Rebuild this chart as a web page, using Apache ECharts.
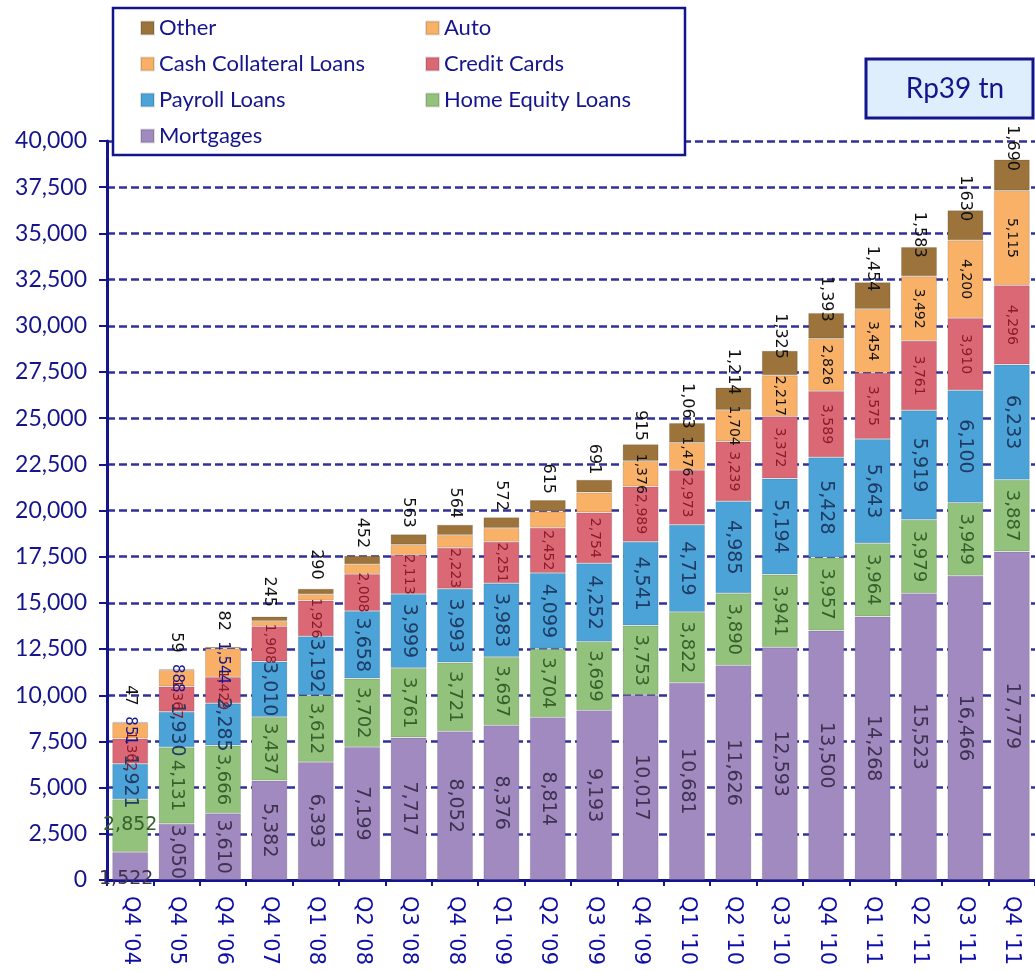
<!DOCTYPE html>
<html>
<head>
<meta charset="utf-8">
<script src="https://cdn.jsdelivr.net/npm/echarts@6/dist/echarts.min.js"></script>
<style>
html,body{margin:0;padding:0;background:#fff;}
#c{width:1035px;height:971px;}
</style>
</head>
<body>
<div id="c"></div>
<script>
const categories = ["Q4 '04","Q4 '05","Q4 '06","Q4 '07","Q1 '08","Q2 '08","Q3 '08","Q4 '08","Q1 '09","Q2 '09","Q3 '09","Q4 '09","Q1 '10","Q2 '10","Q3 '10","Q4 '10","Q1 '11","Q2 '11","Q3 '11","Q4 '11"];
const mortgages      = [1522,3050,3610,5382,6393,7199,7717,8052,8376,8814,9193,10017,10681,11626,12593,13500,14268,15523,16466,17779];
const homeEquity     = [2852,4131,3666,3437,3612,3702,3761,3721,3697,3704,3699,3753,3822,3890,3941,3957,3964,3979,3949,3887];
const payroll        = [1921,1930,2285,3010,3192,3658,3999,3993,3983,4099,4252,4541,4719,4985,5194,5428,5643,5919,6100,6233];
const creditCards    = [1362,1367,1429,1908,1926,2008,2113,2223,2251,2452,2754,2989,2973,3239,3372,3589,3575,3761,3910,4296];
const cashCollateral = [851,888,1544,null,null,null,null,null,null,null,null,null,null,null,null,null,null,null,null,null];
const auto           = [null,null,null,280,350,530,560,680,750,880,1080,1376,1476,1704,2217,2826,3454,3492,4200,5115];
const other          = [47,59,82,245,290,452,563,564,572,615,691,915,1063,1214,1325,1393,1454,1583,1630,1690];
const yTickStep = 2500;
const yMax = 40000;
const totalLabel = "Rp39 tn";

const NAVY = '#14148c';
const fmt = v => (v == null ? '' : Number(v).toLocaleString('en-US'));

function mkData(arr, overrides) {
  return arr.map((v, i) => {
    const o = overrides ? overrides(i, v) : null;
    return o ? Object.assign({ value: v }, o) : v;
  });
}

function mkSeries(name, arr, color, labelOpt, overrides) {
  return {
    name: name,
    type: 'bar',
    stack: 'total',
    barWidth: 36,
    data: mkData(arr, overrides),
    itemStyle: { color: color, borderColor: 'rgba(0,0,0,0.12)', borderWidth: 1 },
    label: Object.assign({
      show: true,
      position: 'inside',
      rotate: -90,
      fontFamily: 'DejaVu Sans',
      formatter: p => fmt(p.value)
    }, labelOpt),
    emphasis: { disabled: true },
    animation: false
  };
}

const chart = echarts.init(document.getElementById('c'), null, { renderer: 'canvas' });

const series = [
  mkSeries('Mortgages', mortgages, '#a08abf', { color: '#3f3151', fontSize: 19 },
    (i) => i === 0 ? { label: { rotate: 0, offset: [-4, 13] } } : null),
  mkSeries('Home Equity Loans', homeEquity, '#92c27c', { color: '#35602a', fontSize: 18 },
    (i) => i === 0 ? { label: { rotate: 0, fontSize: 19 } } : null),
  mkSeries('Payroll Loans', payroll, '#4ba3d8', { color: '#1f3b63', fontSize: 19 }),
  mkSeries('Credit Cards', creditCards, '#da6875', { color: '#8b1a2b', fontSize: 14 }),
  mkSeries('Cash Collateral Loans', cashCollateral, '#f9b066', { color: NAVY, fontSize: 15 }),
  mkSeries('Auto', auto, '#f9b168', { color: '#111', fontSize: 14 },
    (i) => i < 11 ? { label: { show: false } } : null),
  mkSeries('Other', other, '#9b733b', { color: '#111', fontSize: 16, offset: [-27, 0] })
];

const legendText = { color: NAVY, fontSize: 22, fontFamily: 'Lato', lineHeight: 22 };

chart.setOption({
  animation: false,
  backgroundColor: '#fff',
  grid: { left: 107, top: 141, width: 934, height: 739, containLabel: false },
  legend: [
    { orient: 'vertical', left: 135, top: 12, itemWidth: 13, itemHeight: 13, itemGap: 14, icon: 'rect',
      data: ['Other', 'Cash Collateral Loans', 'Payroll Loans', 'Mortgages'], textStyle: legendText, z: 10, selectedMode: false },
    { orient: 'vertical', left: 420, top: 12, itemWidth: 13, itemHeight: 13, itemGap: 14, icon: 'rect',
      data: ['Auto', 'Credit Cards', 'Home Equity Loans'], textStyle: legendText, z: 10, selectedMode: false }
  ],
  graphic: [
    { type: 'rect', z: 3, shape: { x: 113, y: 8, width: 572, height: 147 },
      style: { fill: '#fff', stroke: NAVY, lineWidth: 2.5 } },
    { type: 'rect', z: 3, shape: { x: 866, y: 59, width: 167, height: 59 },
      style: { fill: '#deeefc', stroke: NAVY, lineWidth: 3 } },
    { type: 'text', z: 4, x: 955, y: 89,
      style: { text: totalLabel, fill: NAVY, font: '28px Lato', textAlign: 'center', textVerticalAlign: 'middle' } }
  ],
  xAxis: {
    type: 'category',
    data: categories,
    axisLine: { lineStyle: { color: NAVY, width: 3 } },
    axisTick: { show: true, length: 6, lineStyle: { color: NAVY, width: 2 } },
    axisLabel: { rotate: -90, margin: 16, color: '#0e0ea6', fontSize: 21, fontFamily: 'DejaVu Sans', interval: 0 },
    splitLine: { show: false }
  },
  yAxis: {
    type: 'value',
    min: 0, max: yMax, interval: yTickStep,
    axisLine: { show: true, lineStyle: { color: NAVY, width: 3 } },
    axisTick: { show: true, length: 8, lineStyle: { color: NAVY, width: 2 } },
    axisLabel: { margin: 20, color: NAVY, fontSize: 23, fontFamily: 'Lato', formatter: v => fmt(v) },
    splitLine: { show: true, lineStyle: { color: '#30309a', width: 2.5, type: [8, 4] } }
  },
  series: series
});
</script>
</body>
</html>
